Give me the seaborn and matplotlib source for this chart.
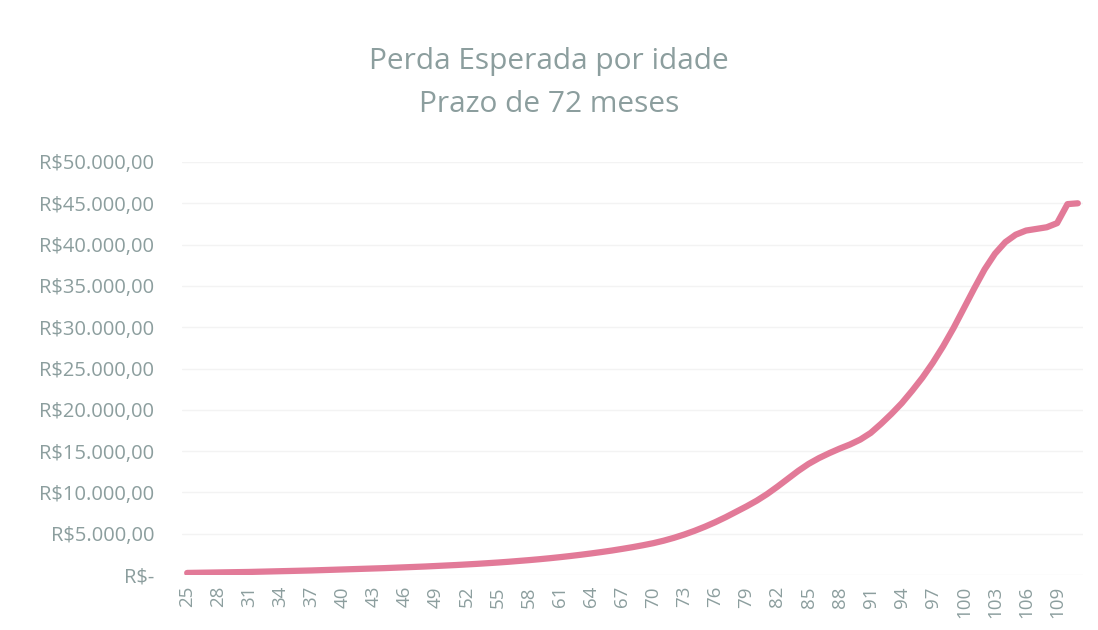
import numpy as np
import pandas as pd
import matplotlib
matplotlib.use("Agg")
import matplotlib.pyplot as plt
import seaborn as sns

# Idades (25 a 111) e perda esperada em R$
idades = list(range(25, 112))
perda = [250, 270, 290, 310, 330, 350, 370, 400, 430, 460,
         490, 520, 550, 590, 630, 670, 710, 750, 790, 830,
         880, 930, 980, 1030, 1090, 1150, 1210, 1280, 1350, 1430,
         1510, 1600, 1700, 1800, 1910, 2030, 2160, 2300, 2450, 2610,
         2780, 2960, 3160, 3370, 3600, 3850, 4150, 4500, 4900, 5350,
         5850, 6400, 7000, 7650, 8300, 9000, 9800, 10700, 11650, 12600,
         13450, 14150, 14750, 15300, 15800, 16400, 17200, 18300, 19500, 20800,
         22300, 23900, 25700, 27700, 29900, 32300, 34700, 37000, 38900, 40300,
         41200, 41700, 41900, 42100, 42600, 44900, 45000]

yticks = list(range(0, 50001, 5000))
ytick_labels = ["R$-", "R$5.000,00", "R$10.000,00", "R$15.000,00", "R$20.000,00",
                "R$25.000,00", "R$30.000,00", "R$35.000,00", "R$40.000,00",
                "R$45.000,00", "R$50.000,00"]

df = pd.DataFrame({"idade": idades, "perda": perda})
df["pos"] = np.arange(len(df))

sns.set_style("white")
plt.rcParams["font.family"] = ["Open Sans", "DejaVu Sans"]
txt = "#8c9e9e"

fig = plt.figure(figsize=(10.98, 6.3), dpi=100)
ax = fig.add_axes([182 / 1098, 1 - 575 / 630, (1083 - 182) / 1098, (575 - 162) / 630])

sns.lineplot(data=df, x="pos", y="perda", ax=ax, color="#e27a98", linewidth=4.5,
             solid_capstyle="round")

ax.set_xlim(-0.5, len(df) - 0.5)
ax.set_ylim(0, 50000)
ax.set_yticks(yticks)
ax.set_yticklabels(ytick_labels, color=txt, fontsize=14.5)
ax.set_xticks(df["pos"][::3])
ax.set_xticklabels(df["idade"][::3], rotation=90, color=txt, fontsize=13.5)
ax.tick_params(axis="y", length=0, pad=20)
ax.tick_params(axis="x", length=0, pad=8)
ax.grid(axis="y", color="#f3f3f3", linewidth=1)
for s in ax.spines.values():
    s.set_visible(False)
ax.set_xlabel("")
ax.set_ylabel("")

fig.text(0.5, 1 - 62 / 630, "Perda Esperada por idade", ha="center", va="center",
         color=txt, fontsize=21.5)
fig.text(0.5, 1 - 104 / 630, "Prazo de 72 meses", ha="center", va="center",
         color=txt, fontsize=21.5)

fig.savefig("out.png", dpi=100)
